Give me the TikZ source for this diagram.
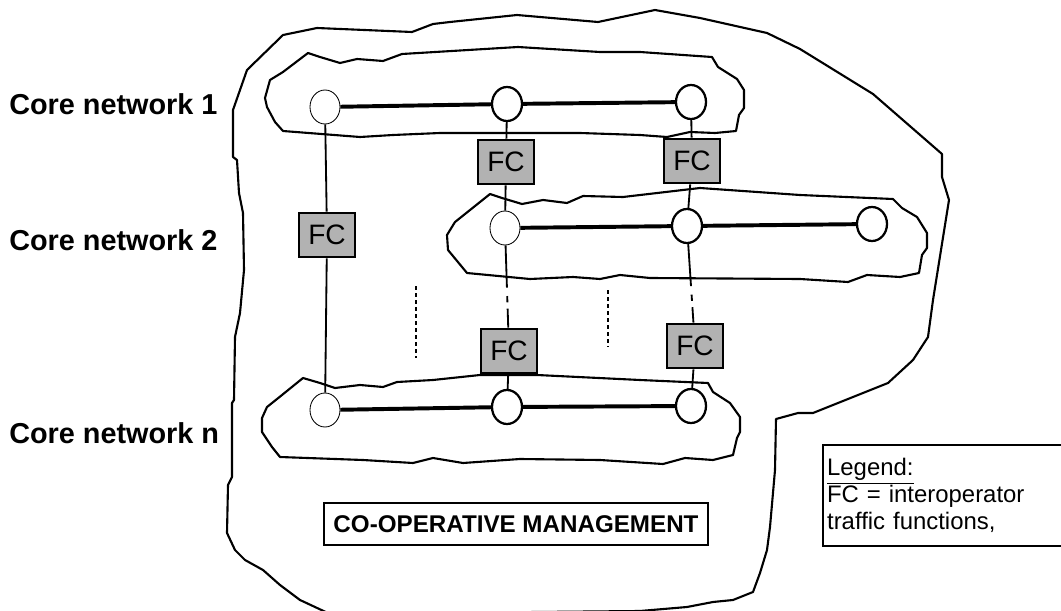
\documentclass[tikz,border=0pt]{standalone}
\usepackage{fontspec}
\setmainfont{Liberation Sans}
\usepackage{tikz}
\usetikzlibrary{shapes.geometric}

\begin{document}
\begin{tikzpicture}[x=0.025cm, y=-0.025cm,
    hub/.style={ellipse, draw, fill=white, line width=1.6pt, minimum width=0.75cm, minimum height=0.85cm, inner sep=0pt},
    thinhub/.style={hub, line width=0.6pt},
    fcbox/.style={draw, fill=black!30, line width=1.3pt, minimum width=1.4cm, minimum height=1.12cm, inner sep=0pt, font=\fontsize{20}{24}\selectfont},
    link/.style={line width=2.8pt},
    conn/.style={line width=1.3pt},
    gapped/.style={conn, dash pattern=on 30pt off 6pt on 4.5pt off 4.5pt on 60pt},
    dotline/.style={line width=1.4pt, dash pattern=on 2.5pt off 2.5pt},
    blob/.style={line width=1.5pt, line join=round},
    netlabel/.style={anchor=base west, inner sep=0pt, font=\fontsize{20.5}{24}\selectfont\bfseries},
    mgmtbox/.style={draw, line width=1.3pt, minimum width=9.6cm, minimum height=1.05cm, font=\fontsize{17.2}{20}\selectfont\bfseries},
    legendbox/.style={draw, line width=1.3pt, anchor=north west, text width=8cm, inner xsep=3pt, minimum height=2.525cm, align=left, font=\fontsize{17}{18.9}\selectfont}]

    \useasboundingbox (0,0) rectangle (1061,611);

    % Draw outer co-operative area
    \draw[blob] (412,32) -- (433,24) -- (450,22) -- (517,15) -- (598,22) -- (655,10) -- (700,18) -- (767,33)
        -- (800,49) -- (873,94) -- (942,154) -- (942,177) -- (949,200) -- (933,300) -- (928,337) -- (913,360)
        -- (888,383) -- (813,413) -- (798,413) -- (776,419) -- (775,470) -- (770,527) -- (767,550) -- (760,573)
        -- (753,592) -- (733,600) -- (713,602) -- (687,607) -- (640,611) -- (330,614) -- (300,600) -- (280,585)
        -- (263,570) -- (245,560) -- (235,550) -- (227,533) -- (228,485) -- (232,477) -- (232,403) -- (234,400)
        -- (235,337) -- (240,313) -- (244,270) -- (243,213) -- (239,193) -- (237,160) -- (233,157) -- (233,110)
        -- (247,70) -- (283,35) -- (317,28) -- cycle;

    % Draw core network outlines
    \draw[blob] (308,53) -- (320,57) -- (340,63) -- (357,59) -- (383,61) -- (402,54) -- (518,47) -- (600,52)
        -- (640,52) -- (712,57) -- (718,67) -- (737,79) -- (744,90) -- (744,108) -- (739,115) -- (736,131)
        -- (715,133) -- (690,132) -- (667,137) -- (640,135) -- (580,133) -- (440,133) -- (393,135) -- (360,137)
        -- (283,131) -- (275,122) -- (267,107) -- (265,98) -- (270,80) -- (283,72) -- cycle;
    \draw[blob] (490,194) -- (502,198) -- (522,204) -- (543,200) -- (567,203) -- (583,196) -- (623,197) -- (700,188)
        -- (800,195) -- (893,199) -- (902,208) -- (917,217) -- (927,233) -- (927,248) -- (922,255) -- (919,273)
        -- (900,277) -- (867,275) -- (848,282) -- (800,279) -- (650,278) -- (620,275) -- (600,279) -- (573,277)
        -- (530,279) -- (467,273) -- (448,250) -- (447,235) -- (455,222) -- cycle;
    \draw[blob] (303,378) -- (320,383) -- (335,388) -- (360,385) -- (383,387) -- (397,382) -- (433,380) -- (480,375)
        -- (537,375) -- (640,380) -- (708,383) -- (713,392) -- (730,403) -- (740,417) -- (740,432) -- (737,438)
        -- (733,455) -- (713,460) -- (685,458) -- (663,464) -- (600,460) -- (520,459) -- (463,463) -- (433,458)
        -- (413,463) -- (363,460) -- (280,457) -- (272,447) -- (262,432) -- (262,418) -- (267,407) -- (282,395) -- cycle;

    % Labels
    \node[netlabel] (lab1) at (9,115) {Core network 1};
    \node[netlabel] (lab2) at (9,250) {Core network 2};
    \node[netlabel] (labn) at (9,443) {Core network n};

    % Network nodes
    \node[thinhub] (a1) at (325,107) {};
    \node[hub] (b1) at (507,104) {};
    \node[hub] (c1) at (691,102) {};
    \node[thinhub] (b2) at (505,228) {};
    \node[hub] (c2) at (687,226) {};
    \node[hub] (d2) at (872,224) {};
    \node[thinhub] (a3) at (325,410) {};
    \node[hub] (b3) at (507,407) {};
    \node[hub] (c3) at (691,406) {};

    % FC boxes
    \node[fcbox] (fc1) at (506,162) {FC};
    \node[fcbox] (fc2) at (692,161) {FC};
    \node[fcbox] (fcl) at (327,235) {FC};
    \node[fcbox] (fc3) at (509,351) {FC};
    \node[fcbox] (fc4) at (695,346) {FC};

    % Links inside each core network
    \draw[link] (a1) -- (b1) (b1) -- (c1);
    \draw[link] (b2) -- (c2) (c2) -- (d2);
    \draw[link] (a3) -- (b3) (b3) -- (c3);

    % Interconnections
    \draw[conn] (a1) -- (fcl) -- (a3);
    \draw[conn] (b1) -- (fc1) -- (b2);
    \draw[conn] (c1) -- (fc2) -- (c2);
    \draw[gapped] (b2) -- (fc3);
    \draw[gapped] (c2) -- (fc4);
    \draw[conn] (fc3) -- (b3);
    \draw[conn] (fc4) -- (c3);

    % Dots between networks
    \coordinate (dots1top) at (416,286);
    \coordinate (dots1bot) at (416,358);
    \coordinate (dots2top) at (608,290);
    \coordinate (dots2bot) at (608,347);
    \draw[dotline] (dots1top) -- (dots1bot);
    \draw[dotline] (dots2top) -- (dots2bot);

    % Management and legend
    \node[mgmtbox] (mgmt) at (516,524) {CO-OPERATIVE MANAGEMENT};
    \node[legendbox] (legend) at (822,444) {\underline{Legend:}\\FC = interoperator\\traffic functions,};
\end{tikzpicture}
\end{document}
